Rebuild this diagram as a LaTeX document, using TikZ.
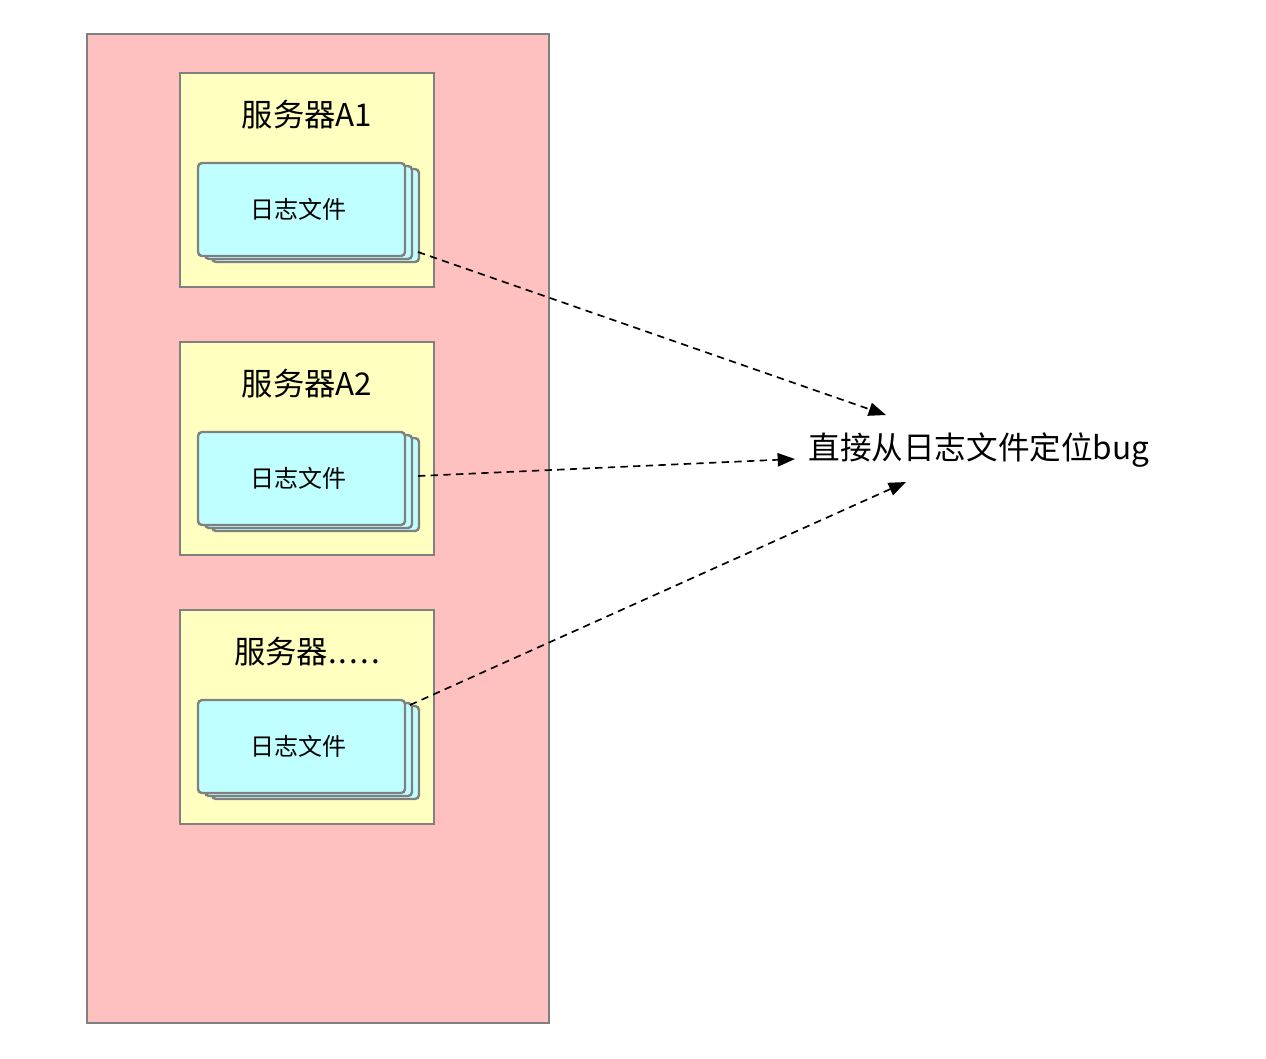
\documentclass[tikz,border=0pt]{standalone}
\usepackage{fontspec}
\setmainfont{Noto Sans CJK SC}
\usetikzlibrary{arrows.meta}
\definecolor{pinkbg}{RGB}{255,192,192}
\definecolor{yellowbg}{RGB}{255,255,192}
\definecolor{cyanbg}{RGB}{192,255,255}
\definecolor{edgegray}{RGB}{128,128,128}
\tikzset{
  outerbox/.style={draw=edgegray, fill=pinkbg, line width=1.5pt},
  serverbox/.style={draw=edgegray, fill=yellowbg, line width=1.2pt},
  filelayer/.style={draw=edgegray, fill=cyanbg, line width=1.8pt, rounded corners=3pt},
  serverlabel/.style={font=\fontsize{23.5}{27}\selectfont, inner sep=0pt},
  filelabel/.style={font=\fontsize{18}{21}\selectfont, inner sep=0pt},
  biglabel/.style={font=\fontsize{23.7}{28}\selectfont, inner sep=0pt},
  flow/.style={draw=black, line width=1.25pt, dash pattern=on 5.5pt off 4pt,
    -{Triangle[length=13pt,width=10pt]}}
}
\newcommand{\filestack}[3]{% name, x, y (top-left of front layer)
  \draw[filelayer] (#2+14,#3+6) rectangle (#2+221,#3+99);
  \draw[filelayer] (#2+7,#3+3) rectangle (#2+214,#3+96);
  \draw[filelayer] (#2,#3) rectangle (#2+207,#3+93);
  \node[filelabel] (#1) at (#2+100,#3+46) {日志文件};
}
\begin{document}
\begin{tikzpicture}[x=0.75pt,y=-0.75pt]
\useasboundingbox (0,0) rectangle (1266,1058);
\path[outerbox] (87,34) rectangle (549,1023);
% servers
\path[serverbox] (180,73) rectangle (434,287);
\path[serverbox] (180,342) rectangle (434,555);
\path[serverbox] (180,610) rectangle (434,824);
\node[serverlabel] (s1) at (307,115) {服务器A1};
\node[serverlabel] (s2) at (307,384) {服务器A2};
\node[serverlabel] (s3) at (307,652) {服务器.\kern1.5pt.\kern1.5pt.\kern1.5pt.\kern1.5pt.};
\filestack{f1}{198}{163}
\filestack{f2}{198}{432}
\filestack{f3}{198}{700}
% target
\node[biglabel] (t) at (979,450) {直接从日志文件定位bug};
\coordinate (a1) at (418,252);
\coordinate (a2) at (418,476);
\coordinate (a3) at (410,705);
\coordinate (e1) at (886,415);
\coordinate (e2) at (795,459);
\coordinate (e3) at (906,482);
\draw[flow] (a1) -- (e1);
\draw[flow] (a2) -- (e2);
\draw[flow] (a3) -- (e3);
\end{tikzpicture}
\end{document}
